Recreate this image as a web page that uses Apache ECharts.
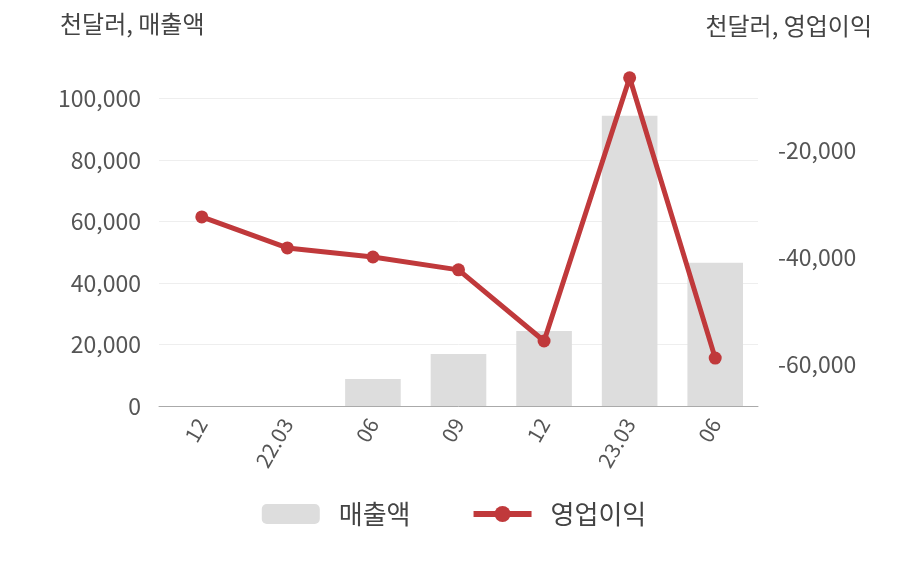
<!DOCTYPE html><html><head><meta charset="utf-8"><script src="https://cdn.jsdelivr.net/npm/echarts@6/dist/echarts.min.js"></script></head><body style="margin:0"><div id="c" style="width:908px;height:580px"></div><script>
const categories=['12','22.03','06','09','12','23.03','06'];
const sales=[0,0,8800,16900,24400,94500,46600];
const profit=[-32500,-38300,-40000,-42400,-55700,-6500,-58900];
const rightTicks=[-60000,-40000,-20000];
const font='"Noto Sans CJK KR","Noto Sans",sans-serif';
const ch=echarts.init(document.getElementById('c'));
ch.setOption({
textStyle:{fontFamily:font},
grid:{left:159,right:150,top:68,bottom:174},
graphic:[{type:'text',left:60,top:12,style:{text:'천달러, 매출액',fontSize:24,fill:'#444',fontFamily:font}},
{type:'text',right:36,top:14,style:{text:'천달러, 영업이익',fontSize:24,fill:'#444',fontFamily:font}}],
legend:{bottom:48,itemGap:60,itemWidth:58,itemHeight:20,textStyle:{fontSize:26,color:'#444',padding:[0,0,0,14]},
data:[{name:'매출액',itemStyle:{borderRadius:0}},{name:'영업이익',itemStyle:{color:'#c0393b'},lineStyle:{width:6,color:'#c0393b'}}]},
xAxis:{type:'category',data:categories,axisTick:{show:false},axisLine:{lineStyle:{color:'#aaa'}},axisLabel:{rotate:60,fontSize:21,color:'#555',margin:14}},
yAxis:[{type:'value',min:0,max:110000,interval:20000,splitLine:{showMaxLine:false,lineStyle:{color:'#eee'}},axisLabel:{fontSize:23,color:'#555',margin:18,formatter:v=>v>100000?'':v.toLocaleString('en-US')}},
{type:'value',min:-67850,max:-4670,splitLine:{show:false},axisLabel:{fontSize:23,color:'#555',margin:20,customValues:rightTicks,formatter:v=>v.toLocaleString('en-US')}}],
series:[{name:'매출액',type:'bar',data:sales,barWidth:'65%',itemStyle:{color:'#dddddd'}},
{name:'영업이익',type:'line',yAxisIndex:1,data:profit,symbol:'circle',symbolSize:13,lineStyle:{width:5,color:'#c0393b'},itemStyle:{color:'#c0393b'}}]
});
</script></body></html>
